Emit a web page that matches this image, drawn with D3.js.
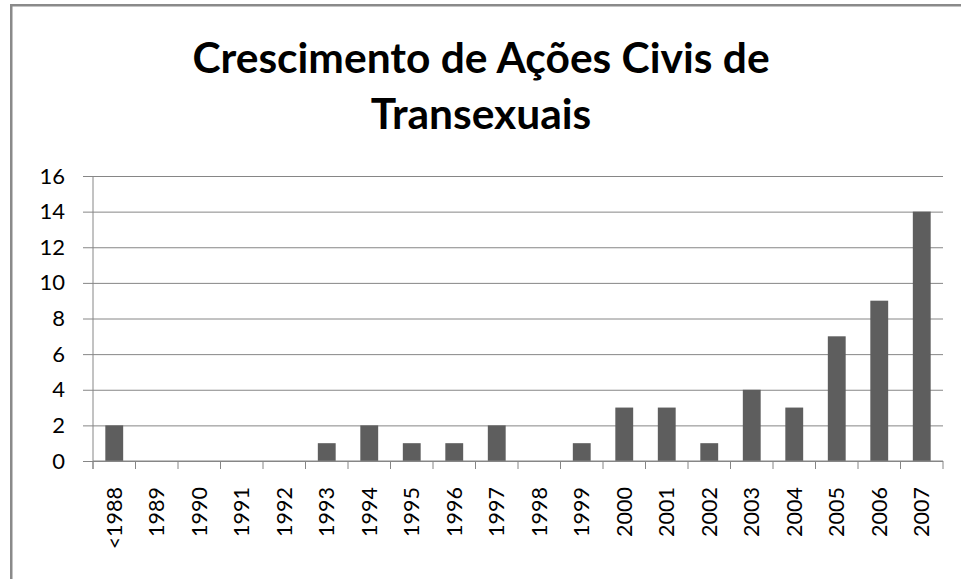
<!DOCTYPE html>
<html>
<head>
<meta charset="utf-8">
<script src="https://cdn.jsdelivr.net/npm/d3@7"></script>
<style>
  body { margin: 0; background: #fff; }
  svg { display: block; }
</style>
</head>
<body>
<svg id="chart_svg" width="961" height="579"></svg>
<script>
// data
const years = ["<1988", "1989", "1990", "1991", "1992", "1993", "1994", "1995", "1996", "1997",
  "1998", "1999", "2000", "2001", "2002", "2003", "2004", "2005", "2006", "2007"]
const acoes = [2, 0, 0, 0, 0, 1, 2, 1, 1, 2, 0, 1, 3, 3, 1, 4, 3, 7, 9, 14]
const yTicks = [0, 2, 4, 6, 8, 10, 12, 14, 16]
const titleLines = ["Crescimento de Ações Civis de", "Transexuais"]

const margin = { top: 176, right: 18, bottom: 118, left: 93 }
const font = "Lato, 'Open Sans', sans-serif"

let svg = d3.select("#chart_svg")
let width = +svg.attr("width")
let height = +svg.attr("height")
let innerW = width - margin.left - margin.right
let innerH = height - margin.top - margin.bottom

// outer frame (only top and left edges show)
svg.append("rect")
  .attr("x", 11.25).attr("y", 5.25)
  .attr("width", width + 20).attr("height", height + 20)
  .attr("fill", "none")
  .attr("stroke", "#8a8a8a")
  .attr("stroke-width", 2.5)

// title
svg.append("text")
  .attr("text-anchor", "middle")
  .attr("font-family", font)
  .attr("font-weight", "bold")
  .attr("font-size", 42.5)
  .attr("fill", "#000")
  .selectAll("tspan")
  .data(titleLines)
  .join("tspan")
  .attr("x", 481)
  .attr("y", (d, i) => 73 + i * 56)
  .text(d => d)

const xScale = d3.scaleBand()
  .domain(years)
  .range([0, innerW])
  .paddingInner(0.58)
  .paddingOuter(0.29)

const yScale = d3.scaleLinear()
  .domain([0, 16])
  .range([innerH, 0])

let g = svg.append("g")
  .attr("transform", `translate(${margin.left},${margin.top})`)

// gridlines + y axis
let y_axis = d3.axisLeft(yScale)
  .tickValues(yTicks)
  .tickSize(-innerW)
  .tickPadding(28)

let gy = g.append("g").call(y_axis)
gy.select(".domain").remove()
gy.selectAll(".tick line")
  .attr("x1", -10)
  .attr("stroke", "#868686")
gy.selectAll(".tick text")
  .attr("font-family", font)
  .attr("font-size", 22)
  .attr("fill", "#000")

// bars
g.selectAll(".bar")
  .data(acoes)
  .join("rect")
  .attr("class", "bar")
  .attr("x", (d, i) => xScale(years[i]))
  .attr("width", xScale.bandwidth())
  .attr("y", d => yScale(d))
  .attr("height", d => innerH - yScale(d))
  .attr("fill", "#5e5e5e")

// axis lines
g.append("line")
  .attr("x1", 0).attr("x2", 0)
  .attr("y1", 0).attr("y2", innerH + 8)
  .attr("stroke", "#868686")
g.append("line")
  .attr("x1", 0).attr("x2", innerW)
  .attr("y1", innerH).attr("y2", innerH)
  .attr("stroke", "#868686")

// x ticks at band edges
const step = xScale.step()
g.selectAll(".xtick")
  .data(d3.range(years.length + 1))
  .join("line")
  .attr("class", "xtick")
  .attr("x1", i => i * step).attr("x2", i => i * step)
  .attr("y1", innerH).attr("y2", innerH + 8)
  .attr("stroke", "#868686")

// rotated x labels
g.selectAll(".xlabel")
  .data(years)
  .join("text")
  .attr("class", "xlabel")
  .attr("transform", d => `translate(${xScale(d) + xScale.bandwidth() / 2},${innerH + 26}) rotate(-90)`)
  .attr("text-anchor", "end")
  .attr("dy", "0.35em")
  .attr("font-family", font)
  .attr("font-size", 21.5)
  .attr("fill", "#000")
  .text(d => d)
</script>
</body>
</html>
